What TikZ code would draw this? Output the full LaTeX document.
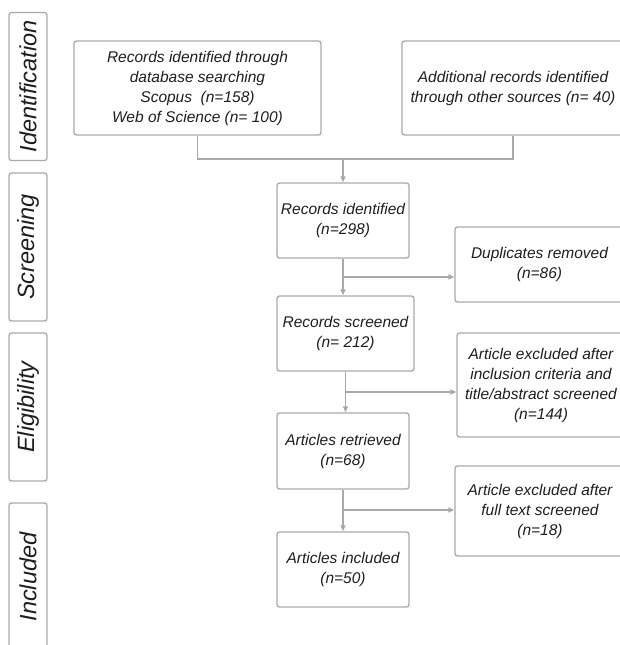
\documentclass[tikz,border=0pt]{standalone}
\usepackage{fontspec}
\setmainfont{Liberation Sans}
\usetikzlibrary{arrows.meta}
\definecolor{framegray}{HTML}{A9A9A9}
\definecolor{inkgray}{HTML}{1E1E1E}
\tikzset{
  stagebox/.style={draw=framegray, line width=1.3pt, rounded corners=2.5pt, inner sep=0pt,
    align=center, text=inkgray, font=\fontsize{15.5}{20}\selectfont\itshape},
  phasebox/.style={stagebox, rotate=90, minimum width=148pt, minimum height=38pt,
    font=\fontsize{23.5}{28}\selectfont\itshape},
  flowline/.style={draw=framegray, line width=1.3pt},
  flowarrow/.style={flowline, -{Triangle[length=6pt,width=5pt]}}
}
\begin{document}
\begin{tikzpicture}[x=1pt,y=-1pt]
    \useasboundingbox (0,0) rectangle (620,645);
    \clip (0,0) rectangle (620,645);
    % phases
    \node[phasebox] (identification) at (28,86.5) {Identification};
    \node[phasebox] (screening) at (28,247) {Screening};
    \node[phasebox] (eligibility) at (28,407) {Eligibility};
    \node[phasebox] (included) at (28,577) {Included};
    % boxes
    \node[stagebox, minimum width=247pt, minimum height=94pt] (dbsearch) at (197.5,88)
      {Records identified through\\database searching\\Scopus\ \ (n=158)\\Web of Science (n= 100)};
    \node[stagebox, minimum width=222pt, minimum height=94pt] (othersrc) at (513,88)
      {Additional records identified\\through other sources (n= 40)};
    \node[stagebox, minimum width=132pt, minimum height=75pt] (recid) at (343,220.5)
      {Records identified\\(n=298)};
    \node[stagebox, minimum width=169pt, minimum height=75pt] (dupl) at (539.5,264.5)
      {Duplicates removed\\(n=86)};
    \node[stagebox, minimum width=137pt, minimum height=75pt] (recscr) at (345.5,333.5)
      {Records screened\\(n= 212)};
    \node[stagebox, minimum width=168pt, minimum height=104pt] (exclabs) at (541,385)
      {Article excluded after\\inclusion criteria and\\title/abstract screened\\(n=144)};
    \node[stagebox, minimum width=132pt, minimum height=76pt] (retr) at (343,451)
      {Articles retrieved\\(n=68)};
    \node[stagebox, minimum width=170pt, minimum height=90pt] (exclfull) at (540,511)
      {Article excluded after\\full text screened\\(n=18)};
    \node[stagebox, minimum width=132pt, minimum height=75pt] (incl) at (343,569.5)
      {Articles included\\(n=50)};
    % connectors
    \coordinate (merge) at (343,159);
    \draw[flowline] (dbsearch.south) |- (merge) -| (othersrc.south);
    \draw[flowarrow] (merge) -- (recid.north);
    \draw[flowarrow] (recid.south) -- (recid.south |- recscr.north);
    \coordinate (split1) at (343,277);
    \draw[flowarrow] (split1) -- (split1 -| dupl.west);
    \draw[flowarrow] (recscr.south) -- (recscr.south |- retr.north);
    \coordinate (split2) at (345.5,392);
    \draw[flowarrow] (split2) -- (split2 -| exclabs.west);
    \draw[flowarrow] (retr.south) -- (incl.north);
    \coordinate (split3) at (343,510);
    \draw[flowarrow] (split3) -- (split3 -| exclfull.west);
\end{tikzpicture}
\end{document}
